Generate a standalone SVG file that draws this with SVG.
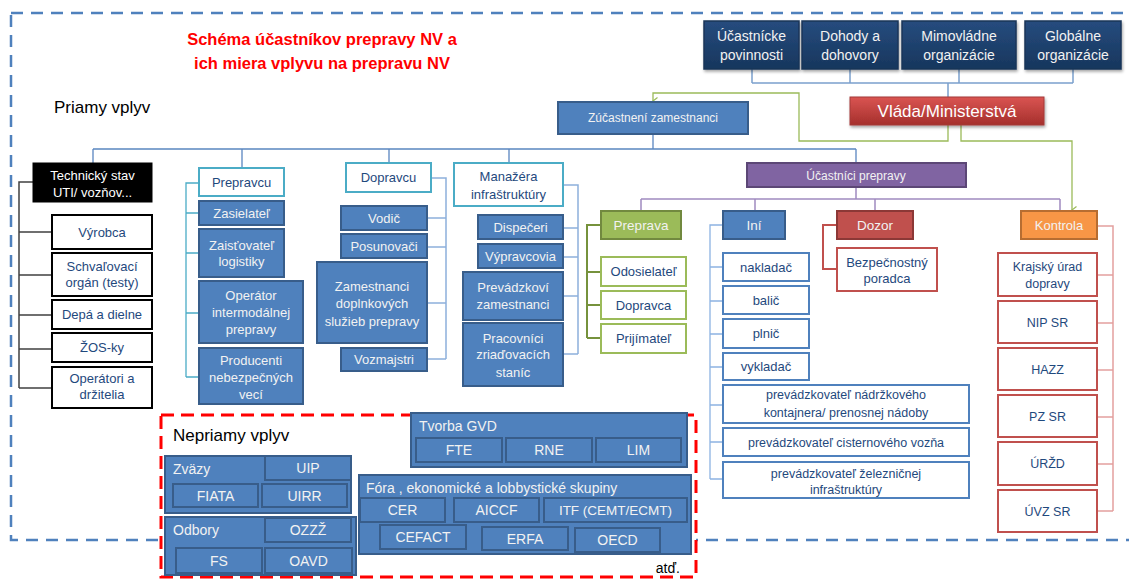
<svg xmlns="http://www.w3.org/2000/svg" width="1129" height="579" viewBox="0 0 1129 579">
<defs>
<linearGradient id="gNavy" x1="0" y1="0" x2="0" y2="1"><stop offset="0" stop-color="#264C7E"/><stop offset="1" stop-color="#17365D"/></linearGradient>
<linearGradient id="gRed" x1="0" y1="0" x2="0" y2="1"><stop offset="0" stop-color="#DA5552"/><stop offset="1" stop-color="#A52F2C"/></linearGradient>
<filter id="sh" x="-10%" y="-10%" width="130%" height="140%"><feDropShadow dx="1" dy="2" stdDeviation="1.5" flood-color="#000" flood-opacity="0.35"/></filter>
<marker id="ga" markerWidth="8" markerHeight="8" refX="4" refY="6" orient="auto-start-reverse" markerUnits="userSpaceOnUse" viewBox="0 0 8 8"><path d="M0.5,1.5 L4,6 L7.5,1.5" fill="none" stroke="#9BBB59" stroke-width="1.2"/></marker>
<style>
text{font-family:"Liberation Sans",Arial,sans-serif;text-anchor:middle}
.nv{fill:url(#gNavy);stroke:#1A3458;stroke-width:1.5;filter:url(#sh)}
.bl{fill:#4F81BD;stroke:#385D8A;stroke-width:2}
.wk{fill:#fff;stroke:#000;stroke-width:2}
.wt{fill:#fff;stroke:#4BACC6;stroke-width:2}
.wg{fill:#fff;stroke:#9BBB59;stroke-width:2}
.wb{fill:#fff;stroke:#4F81BD;stroke-width:2}
.wr{fill:#fff;stroke:#C0504D;stroke-width:2}
.dk{fill:#1F497D;font-size:13px}
.lt{fill:#F2F2F2;font-size:13px}
.s12{font-size:12.5px}
.grp{fill:#4F81BD;stroke:#385D8A;stroke-width:2}
.gl{fill:#F2F2F2;font-size:14px;text-anchor:start}
.gb{fill:#F2F2F2;font-size:14px}
.cn{fill:none}
</style>
</defs>
<rect width="1129" height="579" fill="#fff"/>
<rect x="11" y="13" width="1130" height="527" fill="none" stroke="#4F81BD" stroke-width="2.5" stroke-dasharray="12 8"/>
<text x="322" y="45" fill="#FF0000" font-size="16.5" font-weight="bold">Schéma účastníkov  prepravy NV a</text>
<text x="322" y="69" fill="#FF0000" font-size="16.5" font-weight="bold">ich miera vplyvu na prepravu NV</text>
<text x="54" y="113" fill="#000" font-size="17" style="text-anchor:start">Priamy vplyv</text>

<g id="connectors" class="cn">
<path d="M752,69V83M850,69V83M959,69V83M1073,69V83M752,83H1073M948,83V97" stroke="#7BA0CD" stroke-width="1.5"/>
<path d="M948,125V141H799V93H653V101" stroke="#9BBB59" stroke-width="1.3" marker-end="url(#ga)"/>
<path d="M961,125V141H1072V210" stroke="#9BBB59" stroke-width="1.3" marker-end="url(#ga)"/>
<path d="M653,134V149M93,149H856M93,149V163M242,149V168M389,149V163M509,149V163M856,149V163" stroke="#5A86C0" stroke-width="1.3"/>
<path d="M33,182H19V388M19,232H52M19,275H52M19,315H52M19,349H52M19,388H52" stroke="#404040" stroke-width="1.5"/>
<path d="M199,183H186V377M186,213H199M186,253H199M186,313H199M186,377H199" stroke="#4BACC6" stroke-width="1.3"/>
<path d="M431,178H446V359M446,218H427M446,247H427M446,303H427M446,359H427" stroke="#8DB0DC" stroke-width="1.5"/>
<path d="M563,185H578V354M578,228H563M578,257H563M578,296H563M578,354H563" stroke="#8DB0DC" stroke-width="1.5"/>
<path d="M856,187V199M641,199H1060M641,199V211M755,199V211M875,199V211M1060,199V211" stroke="#A08BC0" stroke-width="1.5"/>
<path d="M601,225H587V338M587,272H601M587,305H601M587,338H601" stroke="#76923C" stroke-width="2"/>
<path d="M723,225H710V479M710,267H723M710,301H723M710,334H723M710,367H723M710,405H723M710,442H723M710,479H723" stroke="#8DB3E2" stroke-width="1.3"/>
<path d="M837,225H823V269H837" stroke="#C0504D" stroke-width="2"/>
<path d="M1097,226H1113V511M1113,275H1097M1113,323H1097M1113,370H1097M1113,417H1097M1113,464H1097M1113,511H1097" stroke="#E3A09E" stroke-width="1.5"/>
</g>

<g id="n-ucastnicke"><rect class="nv" x="704" y="21" width="95" height="48"/><text class="lt" x="751.5" y="41" font-size="14" style="font-size:14px">Účastnícke</text><text class="lt" x="751.5" y="60" style="font-size:14px">povinnosti</text></g>
<g id="n-dohody"><rect class="nv" x="802" y="21" width="96" height="48"/><text class="lt" x="850" y="41" style="font-size:14px">Dohody a</text><text class="lt" x="850" y="60" style="font-size:14px">dohovory</text></g>
<g id="n-mimovladne"><rect class="nv" x="902" y="21" width="114" height="48"/><text class="lt" x="959" y="41" style="font-size:14px">Mimovládne</text><text class="lt" x="959" y="60" style="font-size:14px">organizácie</text></g>
<g id="n-globalne"><rect class="nv" x="1025" y="21" width="96" height="48"/><text class="lt" x="1073" y="41" style="font-size:14px">Globálne</text><text class="lt" x="1073" y="60" style="font-size:14px">organizácie</text></g>
<g id="n-vlada"><rect x="850" y="97" width="194" height="28" fill="url(#gRed)" stroke="#A33B38" stroke-width="1" filter="url(#sh)"/><text x="947" y="117" fill="#fff" font-size="17">Vláda/Ministerstvá</text></g>
<g id="n-zucastneni"><rect class="bl" x="558" y="102" width="190" height="32"/><text class="lt" x="653" y="122" style="font-size:12px">Zúčastnení zamestnanci</text></g>
<g id="n-ucastnici"><rect x="747" y="163" width="219" height="24" fill="#8064A2" stroke="#5C4776" stroke-width="2"/><text class="lt" x="856" y="179.5" style="font-size:12px">Účastníci prepravy</text></g>

<g id="n-technicky"><rect x="33" y="163" width="119" height="39" fill="#000" stroke="#000"/><text x="92.5" y="180" fill="#fff" font-size="13">Technický stav</text><text x="92.5" y="197" fill="#fff" font-size="13">UTI/ vozňov...</text></g>
<g id="n-vyrobca"><rect class="wk" x="52" y="215" width="100" height="34"/><text class="dk" x="102" y="236.5">Výrobca</text></g>
<g id="n-schvalovaci"><rect class="wk" x="52" y="253" width="100" height="43"/><text class="dk" x="102" y="271">Schvaľovací</text><text class="dk" x="102" y="287">orgán (testy)</text></g>
<g id="n-depa"><rect class="wk" x="52" y="300" width="100" height="29"/><text class="dk" x="102" y="319">Depá a dielne</text></g>
<g id="n-zos"><rect class="wk" x="52" y="333" width="100" height="29"/><text class="dk" x="102" y="352">ŽOS-ky</text></g>
<g id="n-operatori"><rect class="wk" x="52" y="367" width="100" height="41"/><text class="dk" x="102" y="383">Operátori a</text><text class="dk" x="102" y="399">držitelia</text></g>

<g id="n-prepravcu"><rect class="wt" x="199" y="168" width="85" height="28"/><text class="dk" x="241.5" y="186.5">Prepravcu</text></g>
<g id="n-zasielatel"><rect class="bl" x="199" y="201" width="85" height="24"/><text class="lt" x="241.5" y="217.5">Zasielateľ</text></g>
<g id="n-zaistovatel"><rect class="bl" x="199" y="229" width="85" height="48"/><text class="lt" x="241.5" y="249.5">Zaisťovateľ</text><text class="lt" x="241.5" y="265.5">logistiky</text></g>
<g id="n-operator"><rect class="bl" x="199" y="281" width="104" height="62"/><text class="lt" x="251" y="300">Operátor</text><text class="lt" x="251" y="317">intermodálnej</text><text class="lt" x="251" y="334">prepravy</text></g>
<g id="n-producenti"><rect class="bl" x="199" y="348" width="104" height="56"/><text class="lt" x="251" y="364.5">Producenti</text><text class="lt" x="251" y="381.5">nebezpečných</text><text class="lt" x="251" y="398.5">vecí</text></g>

<g id="n-dopravcu"><rect class="wt" x="346" y="163" width="85" height="29"/><text class="dk" x="388.5" y="182">Dopravcu</text></g>
<g id="n-vodic"><rect class="bl" x="341" y="206" width="86" height="24"/><text class="lt" x="384" y="222.5">Vodič</text></g>
<g id="n-posunovaci"><rect class="bl" x="341" y="234" width="86" height="24"/><text class="lt" x="384" y="250.5">Posunovači</text></g>
<g id="n-zamestnanci"><rect class="bl" x="317" y="262" width="110" height="81"/><text class="lt" x="372" y="291">Zamestnanci</text><text class="lt" x="372" y="308">doplnkových</text><text class="lt" x="372" y="325.5">služieb prepravy</text></g>
<g id="n-vozmajstri"><rect class="bl" x="341" y="348" width="86" height="23"/><text class="lt" x="384" y="364">Vozmajstri</text></g>

<g id="n-manazera"><rect class="wt" x="454" y="163" width="109" height="43"/><text class="dk" x="508.5" y="181">Manažéra</text><text class="dk" x="508.5" y="198.5">infraštruktúry</text></g>
<g id="n-dispeceri"><rect class="bl" x="478" y="215" width="85" height="24"/><text class="lt" x="520.5" y="231.5">Dispečeri</text></g>
<g id="n-vypravcovia"><rect class="bl" x="478" y="244" width="85" height="24"/><text class="lt" x="520.5" y="260.5">Výpravcovia</text></g>
<g id="n-prevadzkovi"><rect class="bl" x="463" y="272" width="100" height="48"/><text class="lt" x="513" y="291.5">Prevádzkoví</text><text class="lt" x="513" y="308.5">zamestnanci</text></g>
<g id="n-pracovnici"><rect class="bl" x="463" y="323" width="100" height="63"/><text class="lt" x="513" y="342.5">Pracovníci</text><text class="lt" x="513" y="358.5">zriaďovacích</text><text class="lt" x="513" y="376.5">staníc</text></g>

<g id="n-preprava"><rect x="601" y="211" width="80" height="28" fill="#9BBB59" stroke="#71893F" stroke-width="2"/><text class="lt" x="641" y="229.5" style="font-size:13.5px">Preprava</text></g>
<g id="n-odosielatel"><rect class="wg" x="601" y="257" width="85" height="29"/><text class="dk" x="643.5" y="276">Odosielateľ</text></g>
<g id="n-dopravca"><rect class="wg" x="601" y="291" width="85" height="28"/><text class="dk" x="643.5" y="309.5">Dopravca</text></g>
<g id="n-prijimatel"><rect class="wg" x="601" y="324" width="85" height="29"/><text class="dk" x="643.5" y="343">Prijímateľ</text></g>

<g id="n-ini"><rect class="bl" x="723" y="211" width="62" height="28"/><text class="lt" x="754" y="229.5" style="font-size:13.5px">Iní</text></g>
<g id="n-nakladac"><rect class="wb" x="723" y="253" width="86" height="28"/><text class="dk" x="766" y="271.5">nakladač</text></g>
<g id="n-balic"><rect class="wb" x="723" y="286" width="86" height="28"/><text class="dk" x="766" y="304.5">balič</text></g>
<g id="n-plnic"><rect class="wb" x="723" y="319" width="86" height="29"/><text class="dk" x="766" y="338">plnič</text></g>
<g id="n-vykladac"><rect class="wb" x="723" y="353" width="86" height="27"/><text class="dk" x="766" y="371">vykladač</text></g>
<g id="n-nadrzkovy"><rect class="wb" x="723" y="385" width="246" height="38"/><text class="dk s12" x="846" y="399">prevádzkovateľ nádržkového</text><text class="dk s12" x="846" y="417">kontajnera/ prenosnej nádoby</text></g>
<g id="n-cisternovy"><rect class="wb" x="723" y="428" width="246" height="28"/><text class="dk s12" x="846" y="446.5">prevádzkovateľ cisternového vozňa</text></g>
<g id="n-zeleznicnej"><rect class="wb" x="723" y="462" width="246" height="36"/><text class="dk s12" x="846" y="477.5">prevádzkovateľ železničnej</text><text class="dk s12" x="846" y="493.5">infraštruktúry</text></g>

<g id="n-dozor"><rect x="837" y="211" width="76" height="28" fill="#C0504D" stroke="#8C3836" stroke-width="2"/><text class="lt" x="875" y="229.5" style="font-size:13.5px">Dozor</text></g>
<g id="n-bezpecnostny"><rect class="wr" x="837" y="248" width="100" height="43"/><text class="dk" x="887" y="266.5">Bezpečnostný</text><text class="dk" x="887" y="282.5">poradca</text></g>

<g id="n-kontrola"><rect x="1021" y="211" width="76" height="28" fill="#F79646" stroke="#B66D31" stroke-width="2"/><text class="lt" x="1059" y="229.5">Kontrola</text></g>
<g id="n-krajsky"><rect class="wr" x="998" y="253" width="99" height="43"/><text class="dk s12" x="1047.5" y="271">Krajský úrad</text><text class="dk s12" x="1047.5" y="288">dopravy</text></g>
<g id="n-nip"><rect class="wr" x="998" y="301" width="99" height="42"/><text class="dk s12" x="1047.5" y="326.5">NIP SR</text></g>
<g id="n-hazz"><rect class="wr" x="998" y="348" width="99" height="42"/><text class="dk s12" x="1047.5" y="373.5">HAZZ</text></g>
<g id="n-pz"><rect class="wr" x="998" y="395" width="99" height="42"/><text class="dk s12" x="1047.5" y="420.5">PZ SR</text></g>
<g id="n-urzd"><rect class="wr" x="998" y="442" width="99" height="43"/><text class="dk s12" x="1047.5" y="468">ÚRŽD</text></g>
<g id="n-uvz"><rect class="wr" x="998" y="490" width="99" height="42"/><text class="dk s12" x="1047.5" y="515.5">ÚVZ SR</text></g>

<g id="n-nepriamy">
<rect x="161" y="415" width="535" height="162" fill="#fff" stroke="#FF0000" stroke-width="3" stroke-dasharray="13 7"/>
<text x="173" y="441" fill="#000" font-size="17" style="text-anchor:start">Nepriamy vplyv</text>
<text x="680" y="573" fill="#000" font-size="14" style="text-anchor:end">atď.</text>
</g>
<g id="n-tvorba"><rect class="grp" x="411" y="413" width="276" height="54"/><text class="gl" x="419" y="431">Tvorba GVD</text>
<rect class="grp" x="416" y="438" width="86" height="24"/><text class="gb" x="459" y="455">FTE</text>
<rect class="grp" x="506" y="438" width="86" height="24"/><text class="gb" x="549" y="455">RNE</text>
<rect class="grp" x="596" y="438" width="85" height="24"/><text class="gb" x="638.5" y="455">LIM</text></g>
<g id="n-zvazy"><rect class="grp" x="165" y="456" width="186" height="57"/><text class="gl" x="173" y="474">Zväzy</text>
<rect class="grp" x="265" y="456" width="86" height="24"/><text class="gb" x="308" y="473">UIP</text>
<rect class="grp" x="173" y="484" width="85" height="23"/><text class="gb" x="215.5" y="500.5">FIATA</text>
<rect class="grp" x="262" y="484" width="85" height="23"/><text class="gb" x="304.5" y="500.5">UIRR</text></g>
<g id="n-odbory"><rect class="grp" x="165" y="517" width="191" height="58"/><text class="gl" x="173" y="535">Odbory</text>
<rect class="grp" x="265" y="518" width="86" height="24"/><text class="gb" x="308" y="535">OZZŽ</text>
<rect class="grp" x="176" y="548" width="86" height="25"/><text class="gb" x="219" y="565.5">FS</text>
<rect class="grp" x="265" y="548" width="87" height="25"/><text class="gb" x="308.5" y="565.5">OAVD</text></g>
<g id="n-fora"><rect class="grp" x="359" y="475" width="332" height="79"/><text class="gl" x="366" y="493">Fóra , ekonomické a lobbystické skupiny</text>
<rect class="grp" x="360" y="498" width="85" height="24"/><text class="gb" x="402.5" y="515">CER</text>
<rect class="grp" x="454" y="498" width="85" height="24"/><text class="gb" x="496.5" y="515">AICCF</text>
<rect class="grp" x="544" y="498" width="143" height="24"/><text class="gb" x="615.5" y="515" style="font-size:13.5px">ITF (CEMT/ECMT)</text>
<rect class="grp" x="380" y="525" width="86" height="24"/><text class="gb" x="423" y="542">CEFACT</text>
<rect class="grp" x="482" y="527" width="86" height="23"/><text class="gb" x="525" y="543.5">ERFA</text>
<rect class="grp" x="575" y="528" width="85" height="24"/><text class="gb" x="617.5" y="545">OECD</text></g>
</svg>
